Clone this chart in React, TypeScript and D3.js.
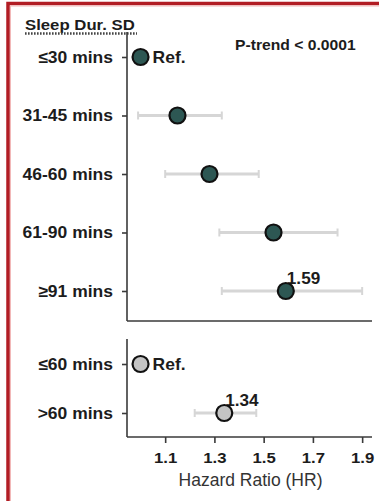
import React, { useEffect, useRef } from "react";
import * as d3 from "d3";

// Sleep duration (SD) categories with hazard ratios and 95% CIs
const durationGroups = ["≤30 mins", "31-45 mins", "46-60 mins", "61-90 mins", "≥91 mins"];
const durationHR = [1.0, 1.15, 1.28, 1.54, 1.59];
const durationLower = [NaN, 0.99, 1.1, 1.32, 1.33];
const durationUpper = [NaN, 1.33, 1.48, 1.8, 1.9];
const durationNotes = ["Ref.", "", "", "", "1.59"];

// Dichotomised sleep duration
const splitGroups = ["≤60 mins", ">60 mins"];
const splitHR = [1.0, 1.34];
const splitLower = [NaN, 1.22];
const splitUpper = [NaN, 1.47];
const splitNotes = ["Ref.", "1.34"];

const hrTicks = [1.1, 1.3, 1.5, 1.7, 1.9];
const hrDomain = [0.945, 1.94];

const W = 379;
const H = 501;
const FONT = "'Liberation Sans', Arial, Helvetica, sans-serif";
const INK = "#1c1c1c";
const AXIS = "#3a3a3a";

type Panel = {
  groups: string[];
  hr: number[];
  lo: number[];
  hi: number[];
  notes: string[];
  top: number;
  bottom: number;
  first: number;
  last: number;
  fill: string;
  showTicks: boolean;
};

export default function App() {
  const ref = useRef<SVGSVGElement>(null);

  useEffect(() => {
    const svg = d3.select(ref.current);
    svg.selectAll("*").remove();

    svg.append("rect").attr("width", W).attr("height", H).attr("fill", "#ffffff");

    // red frame (open to the right and bottom)
    svg
      .append("rect")
      .attr("x", 8)
      .attr("y", 3.5)
      .attr("width", 440)
      .attr("height", 620)
      .attr("fill", "none")
      .attr("stroke", "#b21d24")
      .attr("stroke-width", 3.5);
    svg
      .append("rect")
      .attr("x", 10.5)
      .attr("y", 6)
      .attr("width", 440)
      .attr("height", 620)
      .attr("fill", "none")
      .attr("stroke", "#f2b8b8")
      .attr("stroke-width", 1);

    const x = d3.scaleLinear().domain(hrDomain).range([127, 372]);
    const x0 = x.range()[0];
    const x1 = x.range()[1];

    const stretchedText = (
      g: d3.Selection<any, unknown, null, undefined>,
      tx: number,
      ty: number,
      text: string,
      size: number,
      sx: number,
      anchor = "start",
      weight = "bold"
    ) =>
      g
        .append("text")
        .attr("transform", `translate(${tx},${ty}) scale(${sx},1)`)
        .attr("text-anchor", anchor)
        .attr("font-family", FONT)
        .attr("font-size", size)
        .attr("font-weight", weight)
        .attr("fill", INK)
        .text(text);

    // header
    stretchedText(svg, 25, 30, "Sleep Dur. SD", 15.5, 1.08);
    svg
      .append("line")
      .attr("x1", 25)
      .attr("x2", 137)
      .attr("y1", 33.5)
      .attr("y2", 33.5)
      .attr("stroke", "#444")
      .attr("stroke-width", 2.5)
      .attr("stroke-dasharray", "1.6,1.4");
    stretchedText(svg, 235, 49.5, "P-trend < 0.0001", 14.8, 1.06);

    const panels: Panel[] = [
      {
        groups: durationGroups,
        hr: durationHR,
        lo: durationLower,
        hi: durationUpper,
        notes: durationNotes,
        top: 32,
        bottom: 321,
        first: 57,
        last: 291,
        fill: "#2d5753",
        showTicks: false,
      },
      {
        groups: splitGroups,
        hr: splitHR,
        lo: splitLower,
        hi: splitUpper,
        notes: splitNotes,
        top: 339,
        bottom: 437,
        first: 364,
        last: 413,
        fill: "#c4c4c4",
        showTicks: true,
      },
    ];

    const labelScale = 1.06;

    panels.forEach((p) => {
      const y = d3.scalePoint<string>().domain(p.groups).range([p.first, p.last]);
      const g = svg.append("g");

      // category axis
      const ay = g
        .append("g")
        .attr("transform", `translate(${x0},0)`)
        .call(d3.axisLeft(y).tickSize(5).tickPadding(9));
      ay.select(".domain").remove();
      ay.selectAll(".tick line").attr("stroke", AXIS).attr("stroke-width", 1.6);
      ay.selectAll(".tick text")
        .attr("x", -14 / labelScale)
        .attr("transform", `scale(${labelScale},1)`)
        .attr("font-family", FONT)
        .attr("font-size", 16.5)
        .attr("font-weight", "bold")
        .attr("fill", INK);

      // axis lines
      g.append("line")
        .attr("x1", x0)
        .attr("x2", x0)
        .attr("y1", p.top)
        .attr("y2", p.bottom)
        .attr("stroke", AXIS)
        .attr("stroke-width", 1.6);
      g.append("line")
        .attr("x1", x0)
        .attr("x2", x1)
        .attr("y1", p.bottom)
        .attr("y2", p.bottom)
        .attr("stroke", AXIS)
        .attr("stroke-width", 1.6);

      if (p.showTicks) {
        const ax = g
          .append("g")
          .attr("transform", `translate(0,${p.bottom})`)
          .call(
            d3
              .axisBottom(x)
              .tickValues(hrTicks)
              .tickSize(6)
              .tickPadding(9)
              .tickFormat(d3.format(".1f"))
          );
        ax.select(".domain").remove();
        ax.selectAll(".tick line").attr("stroke", AXIS).attr("stroke-width", 1.6);
        ax.selectAll(".tick text")
          .attr("transform", "scale(1.08,1)")
          .attr("font-family", FONT)
          .attr("font-size", 15.5)
          .attr("font-weight", "bold")
          .attr("fill", INK);
      }

      // confidence intervals
      const ci = p.groups
        .map((c, i) => ({ c, lo: p.lo[i], hi: p.hi[i] }))
        .filter((d) => Number.isFinite(d.lo));
      g.selectAll(".ci")
        .data(ci)
        .join("line")
        .attr("x1", (d) => x(d.lo))
        .attr("x2", (d) => x(d.hi))
        .attr("y1", (d) => y(d.c)!)
        .attr("y2", (d) => y(d.c)!)
        .attr("stroke", "#d6d6d6")
        .attr("stroke-width", 3);
      const caps = ci.flatMap((d) => [
        { c: d.c, v: d.lo },
        { c: d.c, v: d.hi },
      ]);
      g.selectAll(".cap")
        .data(caps)
        .join("line")
        .attr("x1", (d) => x(d.v))
        .attr("x2", (d) => x(d.v))
        .attr("y1", (d) => y(d.c)! - 4)
        .attr("y2", (d) => y(d.c)! + 4)
        .attr("stroke", "#d6d6d6")
        .attr("stroke-width", 2);

      // value labels sit behind the markers
      p.groups.forEach((c, i) => {
        const n = p.notes[i];
        if (n && n !== "Ref.") {
          stretchedText(g, x(p.hr[i]) + 1, y(c)! - 7, n, 16.5, 1.04);
        }
      });

      g.selectAll(".pt")
        .data(p.groups)
        .join("circle")
        .attr("cx", (_, i) => x(p.hr[i]))
        .attr("cy", (c) => y(c)!)
        .attr("r", 8)
        .attr("fill", p.fill)
        .attr("stroke", "#111")
        .attr("stroke-width", 2.2);

      p.groups.forEach((c, i) => {
        if (p.notes[i] === "Ref.") {
          stretchedText(g, x(p.hr[i]) + 12, y(c)! + 5.5, "Ref.", 16.5, 1.06);
        }
      });
    });

    stretchedText(svg, 250.5, 486, "Hazard Ratio (HR)", 17.5, 1, "middle", "normal").attr(
      "fill",
      "#333"
    );
  }, []);

  return (
    <svg
      ref={ref}
      width={W}
      height={H}
      style={{ position: "absolute", left: 0, top: 0, display: "block" }}
    />
  );
}
